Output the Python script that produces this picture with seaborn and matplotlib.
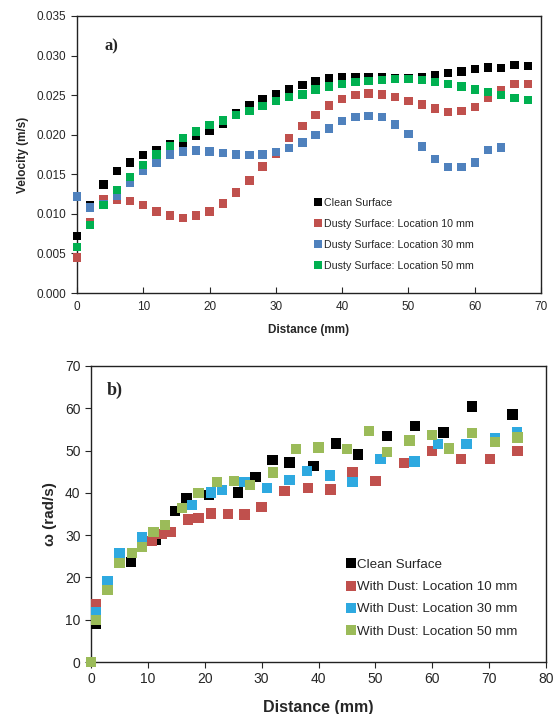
"""Velocity and angular velocity over distance, clean vs dusty surface."""

import matplotlib
matplotlib.use("Agg")
import matplotlib.pyplot as plt
import pandas as pd
import seaborn as sns

# ---- panel a: velocity (m/s), sampled every 2 mm ----
dist_a = list(range(0, 70, 2))
vel_clean = [0.0072, 0.0111, 0.0137, 0.0154, 0.0165, 0.0174, 0.0181, 0.0188, 0.0190,
             0.0198, 0.0205, 0.0214, 0.0227, 0.0237, 0.0245, 0.0251, 0.0258, 0.0263,
             0.0268, 0.0271, 0.0273, 0.0273, 0.0273, 0.0273, 0.0272, 0.0272, 0.0273,
             0.0275, 0.0278, 0.0280, 0.0283, 0.0285, 0.0284, 0.0288, 0.0287]
vel_loc10 = [0.0045, 0.0090, 0.0118, 0.0118, 0.0116, 0.0111, 0.0103, 0.0098, 0.0095,
             0.0098, 0.0103, 0.0113, 0.0127, 0.0142, 0.0160, 0.0176, 0.0196, 0.0211,
             0.0225, 0.0237, 0.0245, 0.0250, 0.0252, 0.0251, 0.0248, 0.0243, 0.0238,
             0.0233, 0.0229, 0.0230, 0.0235, 0.0247, 0.0256, 0.0264, 0.0264]
vel_loc30 = [0.0122, 0.0108, 0.0112, 0.0123, 0.0139, 0.0154, 0.0165, 0.0175, 0.0179,
             0.0180, 0.0179, 0.0177, 0.0175, 0.0174, 0.0175, 0.0178, 0.0183, 0.0190,
             0.0200, 0.0208, 0.0217, 0.0222, 0.0224, 0.0222, 0.0213, 0.0201, 0.0185,
             0.0169, 0.0159, 0.0159, 0.0165, 0.0181, 0.0184]
vel_loc50 = [0.0058, 0.0086, 0.0111, 0.0130, 0.0147, 0.0162, 0.0175, 0.0186, 0.0196,
             0.0204, 0.0212, 0.0218, 0.0225, 0.0230, 0.0236, 0.0243, 0.0248, 0.0251,
             0.0257, 0.0261, 0.0264, 0.0267, 0.0268, 0.0269, 0.0270, 0.0270, 0.0269,
             0.0267, 0.0264, 0.0261, 0.0257, 0.0254, 0.0250, 0.0246, 0.0244]
labels_a = ["Clean Surface", "Dusty Surface: Location 10 mm",
            "Dusty Surface: Location 30 mm", "Dusty Surface: Location 50 mm"]
colors_a = ["#000000", "#C0504D", "#4F81BD", "#00B050"]

# ---- panel b: angular velocity (rad/s) ----
dist_clean = [0, 0.9, 7.0, 11.4, 14.8, 16.8, 20.8, 25.9, 28.9, 31.9, 34.9, 39.1,
              43.1, 47.0, 52.1, 57.0, 62.0, 67.0, 74.1]
omega_clean = [0, 9.0, 23.6, 28.8, 35.7, 38.8, 39.5, 40.1, 43.8, 47.8, 47.2, 46.4,
               51.7, 49.1, 53.5, 55.8, 54.3, 60.4, 58.5]
dist_d10 = [0, 0.9, 10.7, 12.4, 14.1, 17.0, 18.9, 21.1, 24.1, 27.0, 30.0, 34.0,
            38.1, 42.1, 46.0, 50.0, 55.0, 60.0, 65.0, 70.1, 75.0]
omega_d10 = [0, 13.6, 28.6, 30.2, 30.8, 33.7, 34.1, 35.1, 35.0, 34.9, 36.7, 40.4,
             41.1, 40.8, 45.0, 42.8, 47.1, 49.9, 48.0, 48.0, 49.9]
dist_d30 = [0, 0.9, 2.9, 5.0, 9.0, 17.8, 21.1, 23.0, 27.0, 30.9, 34.9, 38.0, 42.0,
            46.0, 50.9, 56.9, 61.0, 66.0, 71.0, 74.9]
omega_d30 = [0, 11.8, 19.2, 25.8, 29.6, 37.1, 40.1, 40.7, 42.6, 41.1, 43.0, 45.2,
             44.1, 42.6, 48.0, 47.4, 51.5, 51.5, 52.9, 54.3]
dist_d50 = [0, 0.9, 2.9, 5.0, 7.2, 9.0, 11.0, 13.0, 16.0, 18.9, 22.1, 25.1, 28.0,
            32.0, 36.1, 40.0, 45.0, 48.9, 52.1, 56.0, 60.0, 63.0, 67.0, 71.0, 75.0]
omega_d50 = [0, 9.9, 17.0, 23.4, 25.7, 27.2, 30.8, 32.4, 36.5, 40.0, 42.5, 42.8,
             41.8, 44.8, 50.3, 50.7, 50.4, 54.6, 49.7, 52.4, 53.7, 50.5, 54.1, 52.1, 53.1]
labels_b = ["Clean Surface", "With Dust: Location 10 mm",
            "With Dust: Location 30 mm", "With Dust: Location 50 mm"]
colors_b = ["#000000", "#C0504D", "#2EA9E0", "#9BBB59"]

SERIF = ["Liberation Serif", "DejaVu Serif"]


def long_frame(pairs, labels):
    rows = []
    for (xs, ys), lab in zip(pairs, labels):
        rows.append(pd.DataFrame({"x": xs, "y": ys, "series": lab}))
    return pd.concat(rows, ignore_index=True)


def style_axis(ax):
    for sp in ax.spines.values():
        sp.set_color("#222222")
        sp.set_linewidth(1.0)


def main():
    sns.set_style("ticks")
    plt.rcParams["font.family"] = ["Liberation Sans", "DejaVu Sans"]

    fig = plt.figure(figsize=(5.54, 7.14), dpi=100)
    ax_a = fig.add_axes([0.139, 0.5896, 0.8375, 0.388])
    ax_b = fig.add_axes([0.1643, 0.0728, 0.8213, 0.4146])

    # panel a
    df_a = long_frame([(dist_a, vel_clean), (dist_a, vel_loc10),
                       (dist_a[:len(vel_loc30)], vel_loc30), (dist_a, vel_loc50)], labels_a)
    sns.scatterplot(data=df_a, x="x", y="y", hue="series", hue_order=labels_a,
                    palette=colors_a, marker="s", s=36, linewidth=0, clip_on=False,
                    zorder=3, ax=ax_a)
    ax_a.set_xlim(0, 70)
    ax_a.set_ylim(0, 0.035)
    ax_a.set_xticks(range(0, 71, 10))
    ax_a.set_yticks([i * 0.005 for i in range(8)])
    ax_a.yaxis.set_major_formatter(matplotlib.ticker.FormatStrFormatter("%.3f"))
    ax_a.tick_params(axis="x", direction="in", length=4, labelsize=8.5, pad=6)
    ax_a.tick_params(axis="y", direction="out", length=4, labelsize=8.5)
    ax_a.set_xlabel("Distance (mm)", fontsize=8.5, fontweight="bold", labelpad=8)
    ax_a.set_ylabel("Velocity (m/s)", fontsize=8.5, fontweight="bold", labelpad=6)
    ax_a.text(0.06, 0.892, "a)", transform=ax_a.transAxes, fontsize=12,
              fontweight="bold", va="center", family=SERIF)
    ax_a.legend(loc="upper left", bbox_to_anchor=(0.502, 0.359), frameon=False,
                fontsize=7.7, handlelength=0.8, handletextpad=0.1, labelspacing=1.03,
                markerscale=1.0, borderaxespad=0)
    style_axis(ax_a)

    # panel b
    df_b = long_frame([(dist_clean, omega_clean), (dist_d10, omega_d10),
                       (dist_d30, omega_d30), (dist_d50, omega_d50)], labels_b)
    sns.scatterplot(data=df_b, x="x", y="y", hue="series", hue_order=labels_b,
                    palette=colors_b, marker="s", s=55, linewidth=0, clip_on=False,
                    zorder=3, ax=ax_b)
    ax_b.set_xlim(0, 80)
    ax_b.set_ylim(0, 70)
    ax_b.set_xticks(range(0, 81, 10))
    ax_b.set_yticks(range(0, 71, 10))
    ax_b.tick_params(axis="both", direction="out", length=4, labelsize=10)
    ax_b.set_xlabel("Distance (mm)", fontsize=11.5, fontweight="bold", labelpad=10)
    ax_b.set_ylabel("ω (rad/s)", fontsize=11, fontweight="bold", labelpad=6)
    ax_b.text(0.035, 0.917, "b)", transform=ax_b.transAxes, fontsize=13,
              fontweight="bold", va="center", family=SERIF)
    ax_b.legend(loc="upper left", bbox_to_anchor=(0.549, 0.367), frameon=False,
                fontsize=9.6, handlelength=0.75, handletextpad=0.1, labelspacing=0.74,
                markerscale=0.9, borderaxespad=0)
    style_axis(ax_b)

    fig.savefig("out.png", dpi=100)
    plt.close(fig)


if __name__ == "__main__":
    main()
